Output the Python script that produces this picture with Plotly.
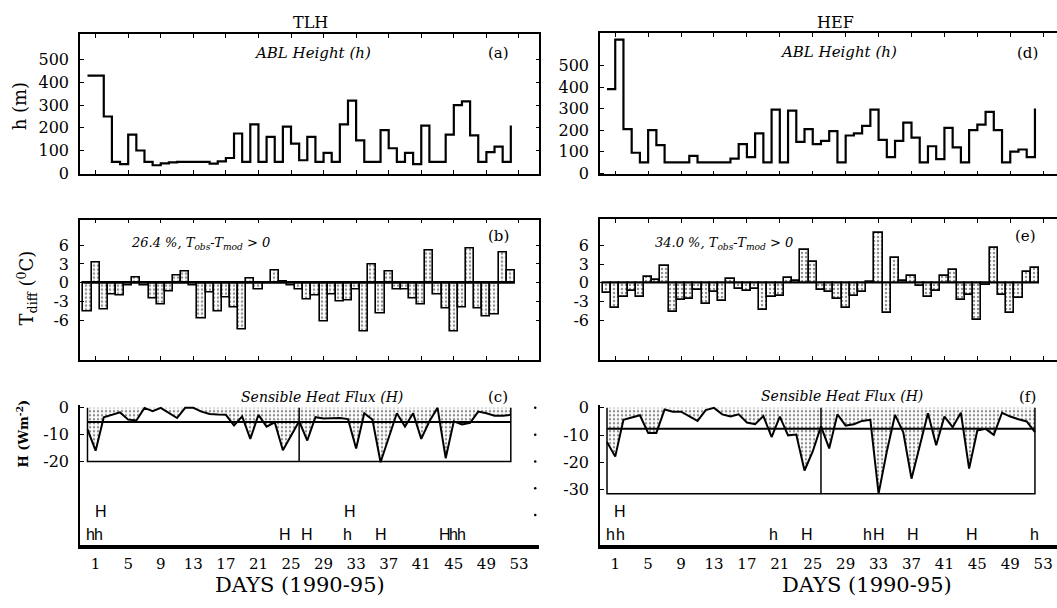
import plotly.graph_objects as go

# ---------------- data ----------------
DAYS = list(range(53))
TICK_DAYS = list(range(1, 54, 4))

TLH_ABL = [430, 430, 250, 50, 40, 170, 100, 50, 35, 43,
           48, 50, 50, 50, 50, 42, 52, 67, 175, 50,
           215, 50, 160, 50, 205, 130, 57, 160, 50, 90,
           50, 215, 320, 145, 50, 50, 190, 110, 50, 90,
           40, 210, 50, 50, 170, 300, 317, 167, 50, 93,
           117, 50, 210]
HEF_ABL = [390, 620, 205, 95, 50, 200, 130, 50, 50, 50,
           80, 50, 50, 50, 50, 68, 135, 75, 185, 50,
           295, 50, 290, 145, 205, 135, 150, 195, 50, 175,
           185, 220, 295, 155, 75, 150, 235, 165, 50, 125,
           65, 210, 120, 50, 200, 225, 285, 200, 50, 100,
           110, 75, 300]
TLH_TDIFF = [-4.5, 3.3, -4.2, -1.9, -2.0, -0.5, 0.8, -0.4, -2.5, -3.5,
             -1.4, 1.2, 1.8, -0.5, -5.6, -1.5, -4.5, -2.4, -3.9, -7.4,
             0.7, -1.0, 0.1, 2.0, 0.2, -0.5, -1.0, -2.7, -2.0, -6.1,
             -1.8, -3.0, -2.8, -1.0, -7.8, 2.9, -4.8, 1.8, -1.0, -1.0,
             -2.5, -3.5, 5.2, -1.8, -4.0, -7.8, -3.9, 5.5, -4.0, -5.3,
             -5.0, 4.8, 2.0]
HEF_TDIFF = [-1.6, -4.1, -2.2, -1.3, -2.2, 1.0, 0.5, 2.7, -4.6, -2.8,
             -2.6, -1.2, -3.4, -1.5, -2.9, 0.6, -1.0, -1.3, -1.0, -4.4,
             -2.3, -2.1, 0.7, 0.3, 5.2, 3.4, -1.2, -1.5, -2.6, -4.1,
             -2.1, -1.5, 0.1, 7.9, -4.9, 3.9, 0.3, 1.1, -0.5, -2.3,
             -1.3, 1.1, 2.1, -2.8, -2.0, -6.0, -0.4, 5.5, -2.0, -4.9,
             -2.5, 1.7, 2.4]
TLH_FLUX = [-8, -16, -3.5, -2.5, -1.7, -4.4, -4.7, 0, -1.2, 0,
            -2, -3.8, 0, 0, -1.4, -2.3, -2.5, -2.6, -6.6, -3.2,
            -11.6, -2.6, -7, -5.4, -15.8, -10.4, -5, -12.2, -3.5, -4,
            -3.8, -3.8, -4.2, -15.2, -2, -4.4, -20.3, -11, -2, -7,
            -2, -11.6, -5, 0, -18.8, -5, -6.2, -5.6, -1.4, -2,
            -2.9, -2.9, -2.6]
HEF_FLUX = [-12.5, -17.9, -4.4, -3.6, -2.7, -9.2, -9.2, -0.6, -1.4, -1.4,
            -3.2, -4.8, -0.8, 0, -2.4, -3.2, -2.4, -5.4, -6, -3,
            -10.7, -3.2, -10.1, -9.8, -23, -16, -6.8, -14.9, -2.4, -6.5,
            -6, -4.8, -4.4, -31.5, -16, -2.6, -9, -26, -14, -2,
            -13.7, -3.2, -7.1, -1.8, -22.3, -8.3, -7.7, -9.9, -1.8, -3.2,
            -4.2, -5, -8.9]
TLH_FLUX_MEAN = -5.3
TLH_FLUX_MIN = -20
HEF_FLUX_MEAN = -7.7
HEF_FLUX_MIN = -31.5
BOX_DAYS = [0, 26, 52]

TLH_PCT = "26.4 %"
HEF_PCT = "34.0 %"

# H / h event markers (day, letter)
TLH_UPPER = [(1.6, "H"), (32.2, "H")]
TLH_LOWER = [(0.4, "h"), (1.4, "h"), (24.2, "H"), (27.0, "H"), (32.0, "h"),
             (36.1, "H"), (43.9, "H"), (45.0, "h"), (46.0, "h")]
HEF_UPPER = [(1.6, "H")]
HEF_LOWER = [(0.45, "h"), (1.6, "h"), (20.2, "h"), (24.3, "H"), (31.7, "h"),
             (33.0, "H"), (37.2, "H"), (44.3, "H"), (52.0, "h")]

# ---------------- styling ----------------
W, H = 1057, 608
SERIF = "DejaVu Serif, Liberation Serif, serif"
SANS = "Liberation Sans, Arial, sans-serif"
BLACK = "black"

def px_x(p):
    return p / W

def px_y(p):
    return 1 - p / H

LEFT_DOM = [px_x(80), px_x(539.3)]
RIGHT_DOM = [px_x(600), 1.0]
LEFT_RANGE = [-0.92, 55.5]
RIGHT_RANGE = [-0.85, 54.68]

pattern = dict(shape=".", fgcolor="#222222", bgcolor="white", size=4, solidity=0.3)

fig = go.Figure()

# (a)/(d) ABL height steps
fig.add_trace(go.Scatter(x=DAYS, y=TLH_ABL, mode="lines", line=dict(shape="hv", color=BLACK, width=2.2),
                         xaxis="x", yaxis="y", showlegend=False))
fig.add_trace(go.Scatter(x=DAYS, y=HEF_ABL, mode="lines", line=dict(shape="hv", color=BLACK, width=2.2),
                         xaxis="x4", yaxis="y4", showlegend=False))

# (b)/(e) T diff bars
for vals, xa, ya in [(TLH_TDIFF, "x2", "y2"), (HEF_TDIFF, "x5", "y5")]:
    fig.add_trace(go.Bar(x=DAYS, y=vals, width=1, xaxis=xa, yaxis=ya, showlegend=False,
                         marker=dict(color="white", line=dict(color=BLACK, width=1.6), pattern=pattern)))
    fig.add_trace(go.Scatter(x=[DAYS[0] - 0.5, DAYS[-1] + 0.5], y=[0, 0], mode="lines",
                             line=dict(color=BLACK, width=1.6), xaxis=xa, yaxis=ya, showlegend=False))

# (c)/(f) sensible heat flux
for vals, mean, vmin, xa, ya in [(TLH_FLUX, TLH_FLUX_MEAN, TLH_FLUX_MIN, "x3", "y3"),
                                 (HEF_FLUX, HEF_FLUX_MEAN, HEF_FLUX_MIN, "x6", "y6")]:
    fig.add_trace(go.Scatter(x=DAYS, y=vals, mode="lines", fill="tozeroy", fillpattern=pattern,
                             fillcolor="white", line=dict(color=BLACK, width=2),
                             xaxis=xa, yaxis=ya, showlegend=False))
    fig.add_trace(go.Scatter(x=[BOX_DAYS[0], BOX_DAYS[-1]], y=[mean, mean], mode="lines",
                             line=dict(color=BLACK, width=2), xaxis=xa, yaxis=ya, showlegend=False))
    fig.add_trace(go.Scatter(x=[BOX_DAYS[0], BOX_DAYS[0], BOX_DAYS[-1], BOX_DAYS[-1]],
                             y=[0, vmin, vmin, 0], mode="lines",
                             line=dict(color=BLACK, width=1.5), xaxis=xa, yaxis=ya, showlegend=False))
    fig.add_trace(go.Scatter(x=[BOX_DAYS[1], BOX_DAYS[1]], y=[0, vmin], mode="lines",
                             line=dict(color=BLACK, width=1.5), xaxis=xa, yaxis=ya, showlegend=False))

# stray tick dots to the right of (c)
fig.add_trace(go.Scatter(x=[55] * 5, y=[0, -10, -20, -30, -40], mode="markers",
                         marker=dict(color=BLACK, size=2.5), cliponaxis=False,
                         xaxis="x3", yaxis="y3", showlegend=False))

# ---------------- axes ----------------
tickfont = dict(family=SERIF, size=16, color=BLACK)

def upper_x(dom, rng):
    return dict(domain=dom, range=rng, showline=True, linecolor=BLACK, linewidth=1.6,
                mirror="ticks", ticks="inside", ticklen=4, tickcolor=BLACK,
                tickvals=TICK_DAYS, showticklabels=False, showgrid=False, zeroline=False)

def bottom_x(dom, rng):
    return dict(domain=dom, range=rng, showline=True, linecolor=BLACK, linewidth=4,
                ticks="", tickvals=TICK_DAYS, ticktext=[str(t) for t in TICK_DAYS],
                tickfont=dict(family=SERIF, size=15, color=BLACK), ticklabelstandoff=2,
                showgrid=False, zeroline=False)

def yax(dom, rng, vals, mirror, anchor):
    return dict(domain=dom, range=rng, showline=True, linecolor=BLACK, linewidth=1.6,
                mirror=mirror, ticks="inside", ticklen=4, tickcolor=BLACK,
                tickvals=vals, ticktext=[str(v) for v in vals], tickfont=tickfont,
                ticklabelstandoff=6, showgrid=False, zeroline=False, anchor=anchor)

DOM_A = [px_y(171.7), px_y(27.7)]
DOM_D = [px_y(172.0), px_y(26.7)]
DOM_B = [px_y(362.7), px_y(218.3)]
DOM_E = [px_y(362.3), px_y(217.7)]
DOM_C = [px_y(553.0), px_y(409.0)]

ABL_TICKS = [0, 100, 200, 300, 400, 500]
T_TICKS = [6, 3, 0, -3, -6]

fig.update_layout(
    xaxis=dict(upper_x(LEFT_DOM, LEFT_RANGE), anchor="y"),
    xaxis2=dict(upper_x(LEFT_DOM, LEFT_RANGE), anchor="y2"),
    xaxis3=dict(bottom_x(LEFT_DOM, LEFT_RANGE), anchor="y3"),
    xaxis4=dict(upper_x(RIGHT_DOM, RIGHT_RANGE), anchor="y4"),
    xaxis5=dict(upper_x(RIGHT_DOM, RIGHT_RANGE), anchor="y5"),
    xaxis6=dict(bottom_x(RIGHT_DOM, RIGHT_RANGE), anchor="y6"),
    yaxis=yax(DOM_A, [-4.3, 613.7], ABL_TICKS, "ticks", "x"),
    yaxis2=yax(DOM_B, [-12.27, 10.05], T_TICKS, "ticks", "x2"),
    yaxis3=yax(DOM_C, [-51.4, 0.98], [0, -10, -20], False, "x3"),
    yaxis4=yax(DOM_D, [-5.9, 650.7], ABL_TICKS, False, "x4"),
    yaxis5=yax(DOM_E, [-12.3, 10.2], T_TICKS, False, "x5"),
    yaxis6=yax(DOM_C, [-50.5, 0.96], [0, -10, -20, -30], False, "x6"),
    width=W, height=H, autosize=False,
    margin=dict(l=0, r=0, t=0, b=0, pad=0),
    paper_bgcolor="white", plot_bgcolor="white",
    showlegend=False, bargap=0,
)

# ---------------- annotations ----------------
ann = []

def text(px, py, s, size, family=SERIF, angle=0, italic=False, bold=False):
    if italic:
        s = "<i>" + s + "</i>"
    if bold:
        s = "<b>" + s + "</b>"
    ann.append(dict(x=px_x(px), y=px_y(py), xref="paper", yref="paper", text=s, showarrow=False,
                    xanchor="center", yanchor="middle", textangle=angle,
                    font=dict(family=family, size=size, color=BLACK)))

text(310, 16, "TLH", 16)
text(835, 16, "HEF", 16)
text(312, 47, "ABL Height (h)", 15, italic=True)
text(838, 46, "ABL Height (h)", 15, italic=True)
text(498, 47, "(a)", 15)
text(1027, 47, "(d)", 15)
text(498, 235, "(b)", 15)
text(1025, 235, "(e)", 15)
text(200, 243, TLH_PCT + ", T<sub>obs</sub>-T<sub>mod</sub> > 0", 13, italic=True)
text(724, 243, HEF_PCT + ", T<sub>obs</sub>-T<sub>mod</sub> > 0", 13, italic=True)
text(322, 401, "Sensible Heat Flux (H)", 14, italic=True)
text(842, 400, "Sensible Heat Flux (H)", 14, italic=True)
text(498, 401, "(c)", 15)
text(1027, 401, "(f)", 15)
text(300, 594, "DAYS (1990-95)", 21)
text(867, 594, "DAYS (1990-95)", 21)
text(19, 102, "h (m)", 18, angle=-90)
text(27, 289, "T<sub>diff</sub> (<sup>0</sup>C)", 18, angle=-90)
text(22, 438, "H (Wm<sup>-2</sup>)", 13, angle=-90, bold=True)

for marks, xa, py in [(TLH_UPPER, "x3", 518.0), (TLH_LOWER, "x3", 542.0),
                      (HEF_UPPER, "x6", 518.0), (HEF_LOWER, "x6", 542.0)]:
    for day, letter in marks:
        ann.append(dict(x=day, y=px_y(py), xref=xa, yref="paper", text=letter, showarrow=False,
                        xanchor="center", yanchor="middle",
                        font=dict(family=SANS, size=16, color=BLACK)))

fig.update_layout(annotations=ann)

fig.write_html("out.html", config={"displayModeBar": False},
               post_script="document.body.style.margin='0';document.body.style.overflow='hidden';")
